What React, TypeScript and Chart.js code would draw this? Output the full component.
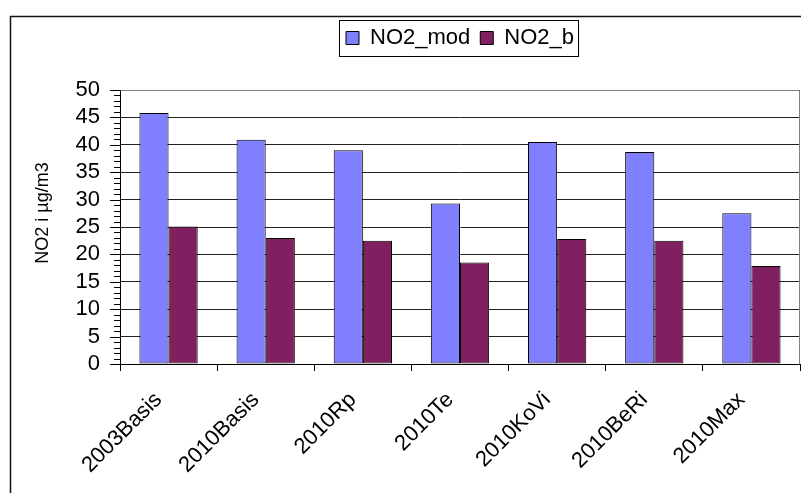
import React, { useEffect, useRef } from "react";
import { Chart, registerables } from "chart.js";

Chart.register(...registerables);

const categories = ["2003Basis", "2010Basis", "2010Rp", "2010Te", "2010KoVi", "2010BeRi", "2010Max"];
const no2Mod = [45.8, 40.9, 39.0, 29.3, 40.5, 38.7, 27.5];
const no2B = [25.1, 23.0, 22.5, 18.5, 22.8, 22.5, 17.9];
const seriesLabels = ["NO2_mod", "NO2_b"];
const yTitle = "NO2 i µg/m3";

const FONT = "Arial, 'Liberation Sans', Helvetica, sans-serif";

const decorPlugin = {
  id: "decor",
  beforeInit(chart: any) {
    const legend = chart.legend;
    if (legend) {
      const origFit = legend.fit;
      legend.fit = function () {
        origFit.call(this);
        this.height += 31;
      };
    }
  },
  beforeDraw(chart: any) {
    const ctx = chart.ctx;
    ctx.save();
    ctx.fillStyle = "#ffffff";
    ctx.fillRect(0, 0, chart.width, chart.height);
    ctx.strokeStyle = "#111";
    ctx.lineWidth = 1.5;
    ctx.beginPath();
    ctx.moveTo(10.5, chart.height + 2);
    ctx.lineTo(10.5, 16.5);
    ctx.lineTo(chart.width + 2, 16.5);
    ctx.stroke();
    ctx.restore();
  },
  afterDraw(chart: any) {
    const ctx = chart.ctx;
    const area = chart.chartArea;
    const y = chart.scales.y;
    ctx.save();
    // plot area top/right border
    ctx.strokeStyle = "#808080";
    ctx.lineWidth = 1;
    ctx.beginPath();
    ctx.moveTo(Math.round(area.left) + 0.5, Math.round(area.top) + 0.5);
    ctx.lineTo(Math.round(area.right) - 0.5, Math.round(area.top) + 0.5);
    ctx.lineTo(Math.round(area.right) - 0.5, Math.round(area.bottom) + 0.5);
    ctx.stroke();
    // y ticks (major + minor)
    ctx.strokeStyle = "#000";
    ctx.beginPath();
    y.ticks.forEach((t: any) => {
      const py = Math.round(y.getPixelForValue(t.value)) + 0.5;
      const len = t.value % 5 === 0 ? 10 : 6;
      ctx.moveTo(area.left - len, py);
      ctx.lineTo(area.left, py);
    });
    ctx.stroke();
    // y axis title
    ctx.fillStyle = "#000";
    ctx.font = "18px " + FONT;
    ctx.textAlign = "center";
    ctx.textBaseline = "middle";
    ctx.translate(43, (area.top + area.bottom) / 2 - 14);
    ctx.rotate(-Math.PI / 2);
    ctx.fillText(yTitle, 0, 0);
    ctx.setTransform(1, 0, 0, 1, 0, 0);
    // legend frame
    const legend = chart.legend;
    if (legend && legend.legendHitBoxes && legend.legendHitBoxes.length) {
      const hb = legend.legendHitBoxes;
      const first = hb[0];
      const last = hb[hb.length - 1];
      const l = Math.round(first.left - 7) + 0.5;
      const r = Math.round(last.left + last.width + 4) + 0.5;
      const t = Math.round(first.top - 7) + 0.5;
      const b = Math.round(first.top + first.height + 7) + 0.5;
      ctx.strokeStyle = "#000";
      ctx.lineWidth = 1;
      ctx.strokeRect(l, t, r - l, b - t);
    }
    ctx.restore();
  },
};

export default function App() {
  const ref = useRef<HTMLCanvasElement | null>(null);

  useEffect(() => {
    if (!ref.current) return;
    const chart = new Chart(ref.current, {
      type: "bar",
      data: {
        labels: categories,
        datasets: [
          {
            label: seriesLabels[0],
            data: no2Mod,
            backgroundColor: "#8080FF",
            borderColor: "#000",
            borderWidth: 1,
            borderSkipped: false,
            categoryPercentage: 0.6,
            barPercentage: 1.0,
          },
          {
            label: seriesLabels[1],
            data: no2B,
            backgroundColor: "#802060",
            borderColor: "#000",
            borderWidth: 1,
            borderSkipped: false,
            categoryPercentage: 0.6,
            barPercentage: 1.0,
          },
        ],
      },
      options: {
        responsive: false,
        animation: false,
        layout: { padding: { top: 17, right: 1, left: 0, bottom: 0 } },
        plugins: {
          legend: {
            display: true,
            position: "top",
            fullSize: false,
            labels: {
              boxWidth: 13,
              boxHeight: 13,
              padding: 10,
              color: "#000",
              font: { family: FONT, size: 22 },
              useBorderRadius: false,
            },
          },
          tooltip: { enabled: false },
        },
        scales: {
          x: {
            offset: true,
            afterFit: (s: any) => {
              s.height = 129;
            },
            grid: {
              offset: true,
              drawOnChartArea: false,
              drawTicks: true,
              tickLength: 7,
              tickColor: "#000",
            },
            border: { display: true, color: "#000", width: 1 },
            ticks: {
              autoSkip: false,
              maxRotation: 45,
              minRotation: 45,
              padding: 16,
              labelOffset: -10,
              color: "#000",
              font: { family: FONT, size: 22 },
            },
          },
          y: {
            min: 0,
            max: 50,
            afterFit: (s: any) => {
              s.width = 120;
            },
            grid: {
              drawTicks: false,
              color: (c: any) => (c.tick && c.tick.value % 5 === 0 && c.tick.value !== 0 ? "#222" : "rgba(0,0,0,0)"),
            },
            border: { display: true, color: "#000", width: 1 },
            ticks: {
              stepSize: 1,
              autoSkip: false,
              padding: 20,
              color: "#000",
              font: { family: FONT, size: 22 },
              callback: (v: any) => (Number(v) % 5 === 0 ? String(v) : ""),
            },
            title: { display: false, text: yTitle },
          },
        },
      },
      plugins: [decorPlugin],
    });
    return () => chart.destroy();
  }, []);

  return (
    <div style={{ position: "fixed", left: 0, top: 0, width: 801, height: 493, background: "#fff" }}>
      <canvas ref={ref} width={801} height={493} style={{ display: "block", width: 801, height: 493 }} />
    </div>
  );
}
